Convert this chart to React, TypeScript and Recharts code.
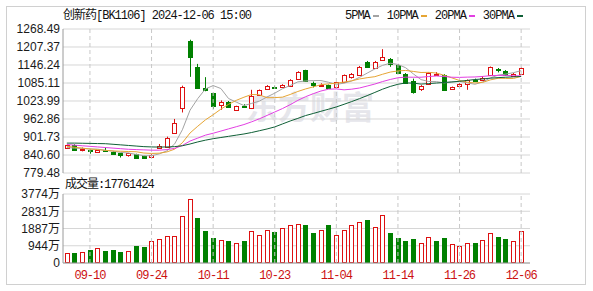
import { ComposedChart, BarChart, Bar, Line, XAxis, YAxis, CartesianGrid, ReferenceLine } from "recharts"

const dates = [
  "09-05", "09-06", "09-09", "09-10", "09-11", "09-12", "09-13", "09-18", "09-19", "09-20",
  "09-23", "09-24", "09-25", "09-26", "09-27", "09-30", "10-08", "10-09", "10-10", "10-11",
  "10-14", "10-15", "10-16", "10-17", "10-18", "10-21", "10-22", "10-23", "10-24", "10-25",
  "10-28", "10-29", "10-30", "10-31", "11-01", "11-04", "11-05", "11-06", "11-07", "11-08",
  "11-11", "11-12", "11-13", "11-14", "11-15", "11-18", "11-19", "11-20", "11-21", "11-22",
  "11-25", "11-26", "11-27", "11-28", "11-29", "12-02", "12-03", "12-04", "12-05", "12-06",
]

const opens = [
  863, 876, 859, 857, 852, 858, 852, 847, 840, 843, 836, 834, 863, 868, 917, 1000, 1229, 1141, 1068, 1051,
  1011, 1022, 995, 1008, 1000, 1046, 1065, 1073, 1071, 1076, 1100, 1128, 1085, 1078, 1078, 1073, 1087, 1106, 1112, 1158,
  1136, 1163, 1166, 1145, 1117, 1093, 1065, 1082, 1111, 1113, 1065, 1076, 1081, 1094, 1094, 1113, 1134, 1127, 1110, 1117,
]
const highs = [
  876, 877, 866, 860, 858, 866, 853, 848, 848, 845, 838, 843, 878, 903, 963, 1076, 1232, 1150, 1105, 1052,
  1026, 1024, 1008, 1013, 1062, 1063, 1078, 1076, 1081, 1098, 1125, 1130, 1090, 1084, 1080, 1089, 1114, 1119, 1143, 1160,
  1160, 1200, 1170, 1150, 1119, 1100, 1078, 1121, 1122, 1115, 1073, 1084, 1097, 1100, 1108, 1141, 1136, 1129, 1119, 1138,
]
const lows = [
  861, 855, 853, 845, 849, 851, 842, 832, 835, 829, 830, 832, 862, 866, 915, 985, 1106, 1066, 1057, 997,
  994, 1003, 993, 1002, 998, 1044, 1063, 1068, 1069, 1074, 1098, 1089, 1070, 1074, 1065, 1071, 1085, 1100, 1110, 1137,
  1134, 1161, 1140, 1117, 1082, 1049, 1058, 1080, 1109, 1061, 1063, 1070, 1062, 1090, 1092, 1111, 1121, 1111, 1108, 1115,
]
const closes = [
  874, 856, 862, 855, 856, 853, 843, 839, 846, 832, 831, 842, 871, 898, 949, 1071, 1175, 1068, 1062, 1006,
  1021, 1005, 1007, 1004, 1042, 1060, 1076, 1071, 1079, 1096, 1123, 1091, 1077, 1080, 1067, 1087, 1112, 1114, 1141, 1139,
  1158, 1173, 1151, 1119, 1084, 1053, 1076, 1119, 1117, 1063, 1071, 1082, 1095, 1093, 1102, 1139, 1130, 1113, 1117, 1136,
]

// moving averages
const ma5 = [
  866, 864, 863, 861, 860.6, 856.4, 853.8, 849.2, 847.4, 842.6, 838.2, 838, 844.4, 854.8, 878.2, 926.2, 992.8, 1032.2, 1065, 1076.4,
  1066.4, 1032.4, 1020.2, 1008.6, 1015.8, 1023.6, 1037.8, 1050.6, 1065.6, 1076.4, 1089, 1092, 1093.2, 1093.4, 1087.6, 1080.4, 1084.6, 1092, 1104.2, 1118.6,
  1132.8, 1145, 1152.4, 1148, 1137, 1116, 1096.6, 1090.2, 1089.8, 1085.6, 1089.2, 1090.4, 1085.6, 1080.8, 1088.6, 1102.2, 1111.8, 1115.4, 1120.2, 1127,
]
const ma10 = [
  870, 867, 864, 861, 859, 856.4, 854.4, 853.4, 852.4, 851.6, 847.3, 845.9, 846.8, 851.1, 860.4, 882.2, 915.4, 938.3, 959.9, 977.3,
  996.3, 1012.6, 1026.2, 1036.8, 1046.1, 1045, 1035.1, 1035.4, 1037.1, 1046.1, 1056.3, 1064.9, 1071.9, 1079.5, 1082, 1084.7, 1088.3, 1092.6, 1098.8, 1103.1,
  1106.6, 1114.8, 1122.2, 1126.1, 1127.8, 1124.4, 1120.8, 1121.3, 1118.9, 1111.3, 1102.6, 1093.5, 1087.9, 1085.3, 1087.1, 1095.7, 1101.1, 1100.7, 1100.4, 1107.6,
]
const ma20 = [
  876, 874, 872, 870, 868, 866, 864, 862, 860, 859, 858, 857, 857, 859, 863, 873, 888, 898, 908, 914.5,
  921.8, 929.3, 936.6, 944, 953.3, 963.4, 975, 986.6, 998.3, 1011.5, 1026.1, 1038.5, 1048.8, 1057.9, 1064.2, 1065, 1061.9, 1064.2, 1068.1, 1074.8,
  1081.6, 1090, 1097.1, 1102.9, 1105, 1104.7, 1104.7, 1107.1, 1108.9, 1107.3, 1104.7, 1104.2, 1105.1, 1105.6, 1107.4, 1109.9, 1110.9, 1110.8, 1109.6, 1109.5,
]
const ma30 = [
  881, 881, 880.5, 880, 879.5, 879, 877, 875, 873, 871, 869, 868, 867.5, 868, 869, 872, 878, 885, 891, 896,
  900, 904, 908, 912, 917, 923, 929, 936, 946, 956, 965, 974.5, 981.6, 989.1, 996.2, 1003.8, 1012.8, 1022.1, 1031.9, 1042.2,
  1053.1, 1064.1, 1073.4, 1080.8, 1085.3, 1084.7, 1081.4, 1083.1, 1085, 1086.9, 1088.5, 1091, 1093.9, 1096.9, 1098.9, 1101.5, 1103.3, 1104.7, 1106, 1107.3,
]

// volume in 万
const volumes = [
  547, 565, 620, 729, 839, 675, 729, 620, 675, 948, 893, 1221, 1313, 1477, 1477, 2570, 3500, 2479, 1768, 1385,
  1276, 1221, 1094, 1221, 1750, 1531, 1823, 1714, 1914, 2078, 2133, 2096, 1659, 1823, 2096, 1531, 1823, 2078, 2242, 2370,
  1969, 2625, 1659, 1385, 1221, 1331, 1094, 1422, 1221, 1385, 1039, 930, 1094, 1112, 1276, 1641, 1440, 1331, 1221, 1776,
]

const priceTicks = [779.48, 840.6, 901.73, 962.86, 1023.99, 1085.11, 1146.24, 1207.37, 1268.49]
const volTicks = [0, 943.5, 1887, 2830.5, 3774]
const labelDates = ["09-10", "09-24", "10-11", "10-23", "11-04", "11-14", "11-26", "12-06"]
const maKeys = ["ma5", "ma10", "ma20", "ma30"]
const maNames = ["5PMA", "10PMA", "20PMA", "30PMA"]
const maColors = ["#a3a3a3", "#e6a534", "#e23fe2", "#0f5f36"]

const RED = "#dd1111"
const GREEN = "#008000"
const BORDER = "#9a9a9a"
const GRID = "#d6d6d6"
const DASH = "#c8c8c8"
const MONO = "'Liberation Mono', 'Noto Sans CJK SC', monospace"
const SANS = "'Liberation Sans', 'Noto Sans CJK SC', sans-serif"

const candles = dates.map((date, i) => ({
  date,
  open: opens[i],
  high: highs[i],
  low: lows[i],
  close: closes[i],
  ma5: ma5[i],
  ma10: ma10[i],
  ma20: ma20[i],
  ma30: ma30[i],
}))

const volData = dates.map((date, i) => ({
  date,
  vol: volumes[i],
  up: i === 0 || closes[i] >= closes[i - 1],
}))

function Candle(props: any) {
  const { x, y, width, height, payload } = props
  if (x == null || !payload) return null
  const { open, close, high, low } = payload
  const top = Math.min(y, y + height)
  const k = Math.abs(height) / (high - low)
  const py = (v: number) => top + (high - v) * k
  const cx = Math.round(x + width / 2) + 0.5
  const bTop = Math.round(py(Math.max(open, close)))
  const bBot = Math.max(bTop + 1, Math.round(py(Math.min(open, close))))
  const hi = py(high)
  const lo = py(low)

  if (close >= open) {
    return (
      <g>
        <line x1={cx} x2={cx} y1={hi} y2={bTop + 0.5} stroke={RED} />
        <line x1={cx} x2={cx} y1={bBot + 0.5} y2={lo} stroke={RED} />
        <rect x={cx - 2} y={bTop + 0.5} width={4} height={bBot - bTop} fill="#fff" stroke={RED} />
      </g>
    )
  }
  return (
    <g>
      <line x1={cx} x2={cx} y1={hi} y2={lo} stroke={GREEN} />
      <rect x={cx - 2.5} y={bTop} width={5} height={bBot - bTop + 1} fill={GREEN} />
    </g>
  )
}

function VolBar(props: any) {
  const { x, y, width, height, payload } = props
  if (x == null || !payload) return null
  const left = Math.round(x + width / 2) - 2
  const top = Math.round(y)
  const bottom = Math.round(y + height)
  if (payload.up) {
    return <rect x={left + 0.5} y={top + 0.5} width={4} height={bottom - top - 1} fill="#fff" stroke={RED} />
  }
  return <rect x={left} y={top} width={5} height={bottom - top} fill={GREEN} />
}

const frameAxes = (
  <>
    <XAxis xAxisId="top" orientation="top" dataKey="date" height={0} tick={false} tickLine={false} axisLine={{ stroke: BORDER }} />
    <YAxis yAxisId="right" orientation="right" width={0} domain={[0, 1]} tick={false} tickLine={false} axisLine={{ stroke: BORDER }} />
  </>
)

export default function App() {
  return (
    <div style={{ position: "absolute", left: 0, top: 0, width: 593, height: 291, background: "#fff", fontFamily: MONO }}>
      <div
        style={{
          position: "absolute", left: 6, top: 6, width: 578, height: 277,
          border: "1px solid #d0d0d0",
        }}
      />
      <div
        style={{
          position: "absolute", left: 246, top: 82, fontSize: 32, fontWeight: 700,
          fontFamily: "'Noto Sans CJK SC'", color: "#e6e6eb", letterSpacing: 0,
        }}
      >
        东方财富
      </div>

      <div style={{ position: "absolute", left: 63, top: 9, height: 14, lineHeight: "14px", fontSize: 12, letterSpacing: "-1px", color: "#111" }}>
        创新药[BK1106] 2024-12-06 15:00
      </div>

      <div style={{ position: "absolute", left: 345, top: 9, height: 14, display: "flex", alignItems: "center", fontSize: 12, letterSpacing: "-1px", color: "#111" }}>
        {maNames.map((name, i) => (
          <div key={name} style={{ display: "flex", alignItems: "center", marginRight: 8 }}>
            <span style={{ lineHeight: "14px" }}>{name}</span>
            <span style={{ display: "inline-block", width: 6, height: 2, marginLeft: 3, background: maColors[i] }} />
          </div>
        ))}
      </div>

      <div style={{ position: "absolute", left: 0, top: 0 }}>
        <ComposedChart width={593} height={180} data={candles} margin={{ top: 29, right: 63, bottom: 7, left: 8 }}>
          <CartesianGrid horizontal vertical={false} stroke={GRID} />
          <XAxis dataKey="date" height={0} tick={false} tickLine={false} axisLine={{ stroke: BORDER }} padding={{ left: 0, right: 5 }} />
          <YAxis
            type="number"
            domain={[779.48, 1268.49]}
            ticks={priceTicks}
            interval={0}
            width={55}
            tickLine={false}
            tickSize={0}
            tickMargin={3}
            axisLine={{ stroke: BORDER }}
            tickFormatter={(v: number) => v.toFixed(2)}
            tick={{ fill: "#1a1a1a", fontSize: 12, fontFamily: SANS }}
            allowDataOverflow
          />
          {frameAxes}
          {labelDates.map((d) => (
            <ReferenceLine key={d} x={d} stroke={DASH} strokeDasharray="4 3" />
          ))}
          <Bar
            dataKey={(d: any) => [d.low, d.high]}
            barSize={5}
            shape={(p: any) => <Candle {...p} />}
            isAnimationActive={false}
          />
          {maKeys.map((key, i) => (
            <Line
              key={key}
              dataKey={key}
              type="linear"
              stroke={maColors[i]}
              strokeWidth={1}
              dot={false}
              activeDot={false}
              isAnimationActive={false}
            />
          ))}
        </ComposedChart>
      </div>

      <div style={{ position: "absolute", left: 65, top: 178, height: 14, lineHeight: "14px", fontSize: 12, letterSpacing: "-1px", color: "#111" }}>
        成交量:17761424
      </div>

      <div style={{ position: "absolute", left: 0, top: 180 }}>
        <BarChart width={593} height={105} data={volData} margin={{ top: 14, right: 63, bottom: 2, left: 8 }}>
          <CartesianGrid horizontal vertical={false} stroke={GRID} />
          <XAxis
            dataKey="date"
            height={20}
            ticks={labelDates}
            interval={0}
            tickLine={false}
            tickSize={0}
            tickMargin={7}
            axisLine={{ stroke: BORDER }}
            padding={{ left: 0, right: 5 }}
            tick={{ fill: "#cc1111", fontSize: 12, fontFamily: MONO, letterSpacing: "-1px" }}
          />
          <YAxis
            type="number"
            domain={[0, 3774]}
            ticks={volTicks}
            interval={0}
            width={55}
            tickLine={false}
            tickSize={0}
            tickMargin={3}
            axisLine={{ stroke: BORDER }}
            tickFormatter={(v: number) => (v === 0 ? "0" : `${Math.round(v)}万`)}
            tick={{ fill: "#1a1a1a", fontSize: 12, fontFamily: SANS }}
          />
          {frameAxes}
          {labelDates.map((d) => (
            <ReferenceLine key={d} x={d} stroke={DASH} strokeDasharray="4 3" />
          ))}
          <Bar dataKey="vol" barSize={5} shape={(p: any) => <VolBar {...p} />} isAnimationActive={false} />
        </BarChart>
      </div>
    </div>
  )
}
